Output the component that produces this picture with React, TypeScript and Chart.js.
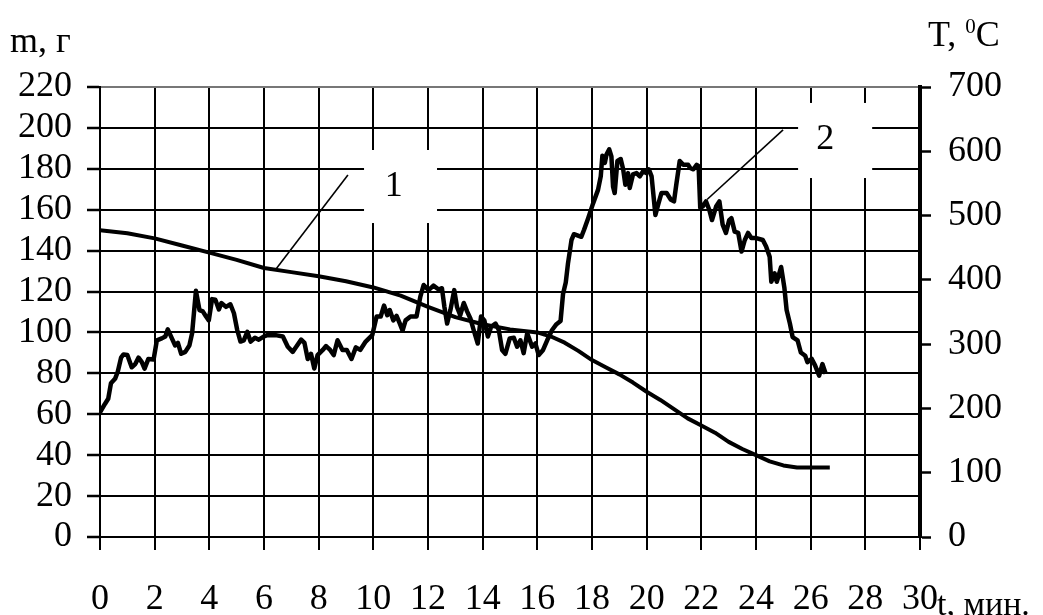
import React, { useEffect, useRef } from "react";
import { Chart, registerables } from "chart.js";

Chart.register(...registerables);

const FONT = "'Liberation Serif', 'Times New Roman', Times, serif";

// Curve 1: mass m, g (left axis)
const massTime = [0, 1, 2, 3, 4, 5, 6, 7, 8, 9, 10, 11, 12, 13, 14, 15, 16, 16.5, 17, 17.5, 18, 18.5, 19, 19.5, 20, 20.5, 21, 21.5, 22, 22.5, 23, 23.5, 24, 24.5, 25, 25.5, 26, 26.7];
const massValues = [150, 148.5, 146, 142.5, 139, 135.5, 131.5, 129.5, 127.5, 125, 122, 118, 112.5, 107.5, 104, 101.5, 100, 98, 95, 91, 86.5, 83, 79.5, 75.5, 71, 67, 62.5, 58, 54.5, 51, 46.5, 43, 40, 37, 35, 34, 34, 34];

// Curve 2: temperature T, °C (right axis)
const tempTime = [
  0, 0.18, 0.3, 0.4, 0.55, 0.65, 0.77, 0.86, 1.0, 1.16, 1.29, 1.41, 1.53, 1.63, 1.77, 1.96,
  2.08, 2.26, 2.39, 2.48, 2.63, 2.75, 2.85, 2.97, 3.12, 3.27, 3.37, 3.51, 3.64, 3.76, 3.88, 3.98,
  4.1, 4.22, 4.35, 4.44, 4.61, 4.77, 4.9, 5.02, 5.14, 5.26, 5.39, 5.51, 5.67, 5.81, 6.0, 6.12,
  6.43, 6.69, 6.87, 7.05, 7.18, 7.36, 7.48, 7.6, 7.72, 7.84, 7.96, 8.15, 8.27, 8.42, 8.55, 8.69,
  8.87, 9.03, 9.2, 9.36, 9.52, 9.72, 9.96, 10.12, 10.27, 10.39, 10.51, 10.6, 10.73, 10.85, 10.97, 11.07,
  11.18, 11.36, 11.58, 11.72, 11.84, 12.02, 12.2, 12.39, 12.51, 12.6, 12.7, 12.82, 12.96, 13.06, 13.18, 13.31,
  13.43, 13.55, 13.67, 13.82, 13.94, 14.06, 14.19, 14.31, 14.47, 14.59, 14.71, 14.83, 14.99, 15.14, 15.26, 15.38,
  15.5, 15.63, 15.81, 15.93, 16.05, 16.21, 16.36, 16.54, 16.7, 16.85, 16.94, 17.04, 17.12, 17.25, 17.34, 17.61,
  17.71, 17.86, 18.04, 18.22, 18.32, 18.38, 18.47, 18.53, 18.63, 18.71, 18.77, 18.83, 18.93, 19.05, 19.14, 19.22,
  19.32, 19.38, 19.5, 19.63, 19.75, 19.87, 19.99, 20.08, 20.18, 20.32, 20.42, 20.54, 20.73, 20.88, 21.0, 21.09,
  21.21, 21.34, 21.52, 21.59, 21.71, 21.83, 21.9, 21.96, 22.05, 22.17, 22.29, 22.39, 22.54, 22.66, 22.78, 22.9,
  23.02, 23.1, 23.22, 23.35, 23.47, 23.59, 23.71, 23.83, 24.01, 24.25, 24.37, 24.5, 24.56, 24.68, 24.76, 24.92,
  25.04, 25.12, 25.24, 25.34, 25.52, 25.64, 25.8, 25.88, 26.04, 26.16, 26.31, 26.43, 26.55,
];
const tempValues = [
  194, 207, 215, 239, 246, 257, 279, 284, 283, 264, 269, 279, 272, 262, 277, 276,
  306, 309, 312, 323, 309, 298, 302, 285, 288, 298, 317, 383, 353, 351, 343, 337,
  370, 369, 354, 364, 358, 362, 348, 322, 304, 306, 319, 304, 310, 307, 312, 314,
  314, 312, 296, 288, 296, 307, 302, 277, 285, 262, 283, 291, 297, 291, 283, 306,
  291, 291, 277, 295, 291, 304, 314, 343, 343, 360, 345, 353, 337, 344, 332, 321,
  337, 343, 343, 374, 392, 384, 391, 385, 387, 358, 332, 353, 384, 358, 345, 364,
  351, 340, 322, 301, 343, 337, 312, 327, 332, 322, 291, 285, 309, 310, 296, 306,
  286, 317, 296, 301, 283, 291, 306, 322, 331, 336, 378, 396, 425, 462, 471, 467,
  478, 496, 519, 540, 561, 593, 582, 595, 603, 592, 545, 535, 585, 588, 572, 548,
  566, 543, 564, 566, 561, 569, 566, 572, 561, 501, 517, 535, 535, 525, 522, 550,
  585, 579, 579, 574, 572, 579, 577, 512, 514, 522, 509, 493, 514, 522, 486, 473,
  493, 496, 475, 473, 444, 462, 473, 465, 465, 462, 452, 436, 397, 410, 397, 420,
  387, 353, 332, 311, 306, 287, 282, 272, 277, 267, 251, 269, 254,
];

// Axis settings
const xTicksMin = 0, xTicksMax = 30, xStep = 2;
const mMin = 0, mMax = 220, mStep = 20;
const tMin = 0, tMax = 700, tStep = 100;

// Curve labels (in data units: t, m)
const labelTexts = ["1", "2"];
const labelCenters = [[10.75, 171.5], [26.53, 194.1]];
const labelBoxes = [[9.66, 153.5, 12.33, 189.2], [25.54, 175.5, 28.25, 212.2]];
const leaders = [[9.07, 177, 6.44, 131], [24.99, 199, 22.21, 165]];

const annotationPlugin = {
  id: "annotations",
  beforeDatasetsDraw(chart: any) {
    const ctx = chart.ctx;
    const xs = chart.scales.x;
    const ys = chart.scales.y;
    ctx.save();
    labelBoxes.forEach((b) => {
      const x1 = xs.getPixelForValue(b[0]);
      const x2 = xs.getPixelForValue(b[2]);
      const y1 = ys.getPixelForValue(b[3]);
      const y2 = ys.getPixelForValue(b[1]);
      ctx.fillStyle = "#fff";
      ctx.fillRect(x1, y1, x2 - x1, y2 - y1);
    });
    ctx.fillStyle = "#000";
    ctx.font = `36px ${FONT}`;
    ctx.textAlign = "center";
    ctx.textBaseline = "middle";
    labelTexts.forEach((t, i) => {
      ctx.fillText(t, xs.getPixelForValue(labelCenters[i][0]), ys.getPixelForValue(labelCenters[i][1]));
    });
    ctx.strokeStyle = "#000";
    ctx.lineWidth = 1.6;
    leaders.forEach((l) => {
      ctx.beginPath();
      ctx.moveTo(xs.getPixelForValue(l[0]), ys.getPixelForValue(l[1]));
      ctx.lineTo(xs.getPixelForValue(l[2]), ys.getPixelForValue(l[3]));
      ctx.stroke();
    });
    ctx.restore();
  },
  afterDraw(chart: any) {
    const ctx = chart.ctx;
    ctx.save();
    ctx.fillStyle = "#000";
    ctx.textBaseline = "alphabetic";
    ctx.textAlign = "left";
    ctx.font = `36px ${FONT}`;
    ctx.fillText("m, г", 10, 52);
    // T, 0C with superscript
    let x = 928;
    ctx.fillText("T, ", x, 46);
    x += ctx.measureText("T, ").width;
    ctx.font = `21px ${FONT}`;
    ctx.fillText("0", x, 33);
    x += ctx.measureText("0").width;
    ctx.font = `36px ${FONT}`;
    ctx.fillText("C", x, 46);
    ctx.font = `34px ${FONT}`;
    ctx.fillText("t, мин.", 937, 615);
    ctx.restore();
  },
};

export default function App() {
  const ref = useRef<HTMLCanvasElement | null>(null);
  useEffect(() => {
    if (!ref.current) return;
    const tickFont = { family: FONT, size: 36 };
    const chart = new Chart(ref.current, {
      type: "line",
      data: {
        datasets: [
          {
            label: "m",
            data: massTime.map((t, i) => ({ x: t, y: massValues[i] })),
            yAxisID: "y",
            borderColor: "#000",
            borderWidth: 4,
            pointRadius: 0,
            tension: 0,
            fill: false,
            borderJoinStyle: "round",
          },
          {
            label: "T",
            data: tempTime.map((t, i) => ({ x: t, y: tempValues[i] })),
            yAxisID: "y1",
            borderColor: "#000",
            borderWidth: 4.5,
            pointRadius: 0,
            tension: 0,
            fill: false,
            borderJoinStyle: "round",
          },
        ],
      },
      options: {
        responsive: false,
        animation: false,
        maintainAspectRatio: false,
        layout: { padding: { top: 87, left: 0, right: 0, bottom: 0 } },
        plugins: { legend: { display: false }, tooltip: { enabled: false } },
        scales: {
          x: {
            type: "linear",
            min: xTicksMin,
            max: xTicksMax,
            ticks: { stepSize: xStep, font: tickFont, color: "#000", padding: 28, autoSkip: false, maxRotation: 0 },
            grid: { color: "#000", lineWidth: 2, drawTicks: true, tickLength: 13, tickColor: "#000", tickWidth: 2 },
            border: { display: true, color: "#000", width: 2 },
            afterFit(s: any) { s.height = 78; },
          },
          y: {
            position: "left",
            min: mMin,
            max: mMax,
            ticks: { stepSize: mStep, font: tickFont, color: "#000", padding: 15, autoSkip: false },
            grid: {
              color: (c: any) => (c.tick && c.tick.value === mMax ? "#777" : "#000"),
              lineWidth: 2,
              drawTicks: true,
              tickLength: 13,
              tickColor: "#000",
              tickWidth: 2.5,
            },
            border: { display: true, color: "#000", width: 2 },
            afterFit(s: any) { s.width = 100; },
          },
          y1: {
            position: "right",
            min: tMin,
            max: tMax,
            ticks: { stepSize: tStep, font: tickFont, color: "#000", padding: 17, autoSkip: false },
            grid: { drawOnChartArea: false, drawTicks: true, tickLength: 11, tickColor: "#000", tickWidth: 2.5 },
            border: { display: true, color: "#000", width: 4 },
            afterFit(s: any) { s.width = 123; },
          },
        },
      },
      plugins: [annotationPlugin],
    } as any);
    return () => chart.destroy();
  }, []);
  return (
    <div style={{ position: "fixed", left: 0, top: 0, width: 1043, height: 615, background: "#fff" }}>
      <canvas ref={ref} width={1043} height={615} style={{ width: 1043, height: 615, display: "block" }} />
    </div>
  );
}
